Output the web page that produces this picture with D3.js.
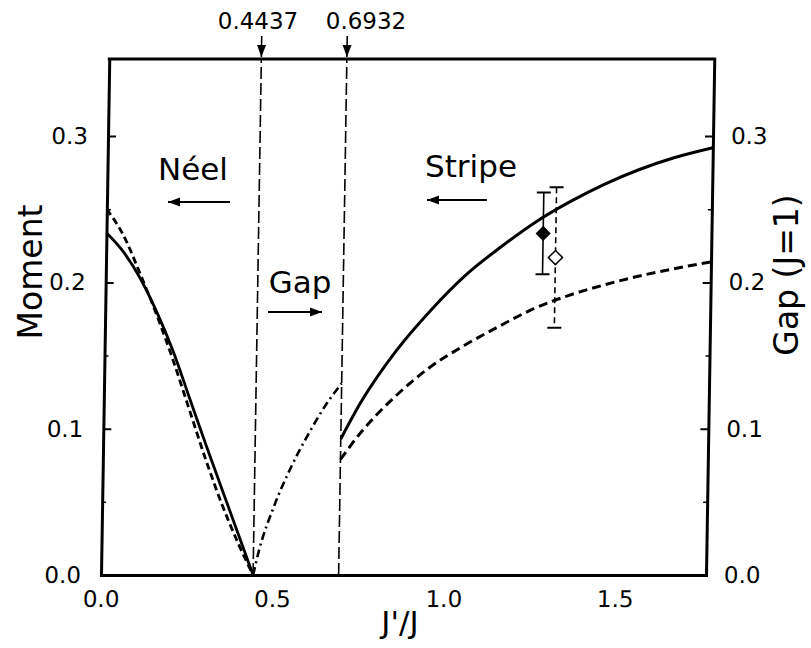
<!DOCTYPE html>
<html><head><meta charset="utf-8">
<script src="https://cdn.jsdelivr.net/npm/d3@7"></script>
<style>
body{margin:0;background:#fff;}
svg{display:block;}
text{font-family:"DejaVu Sans",sans-serif;fill:#000;}
</style>
</head><body>
<svg id="c" width="811" height="648"></svg>
<script>
// ---- data ----
const xTickValues = [0, 0.5, 1.0, 1.5];
const yTickValues = [0, 0.1, 0.2, 0.3];
const yMinorTicks = [0.05, 0.15, 0.25];
const transitionPoints = [0.4437, 0.6932];
const transitionLabels = ["0.4437", "0.6932"];

const neelX      = [0, 0.05, 0.1, 0.15, 0.2, 0.25, 0.3, 0.35, 0.4, 0.4437];
const neelMoment = [0.234, 0.221, 0.203, 0.180, 0.153, 0.121, 0.089, 0.058, 0.027, 0.0];
const neelGap    = [0.250, 0.232, 0.206, 0.178, 0.147, 0.113, 0.079, 0.048, 0.021, 0.0];

const gapX      = [0.4437, 0.46, 0.5, 0.55, 0.6, 0.65, 0.6932];
const gapValues = [0.0, 0.017, 0.046, 0.074, 0.097, 0.117, 0.131];

const stripeX      = [0.6932, 0.75, 0.85, 0.95, 1.05, 1.15, 1.25, 1.35, 1.45, 1.55, 1.65, 1.765];
const stripeMoment = [0.093, 0.118, 0.153, 0.181, 0.205, 0.224, 0.241, 0.255, 0.267, 0.277, 0.285, 0.292];
const stripeGap    = [0.079, 0.097, 0.122, 0.142, 0.157, 0.170, 0.182, 0.191, 0.198, 0.204, 0.209, 0.214];

const pointX   = [1.274, 1.311];
const pointY   = [0.2335, 0.217];
const pointErr = [0.028, 0.048];
const pointFilled = [true, false];

// ---- layout ----
const svg = d3.select("#c");
const x = d3.scaleLinear([0, 1.765], [101, 706]);
const y = d3.scaleLinear([0, 0.3527], [575, 59]);
const k = 0.016; // slight shear of the scanned original
const g = svg.append("g")
  .attr("transform", `translate(${k * y(0)},0) skewX(${-Math.atan(k) * 180 / Math.PI})`);

const defs = svg.append("defs");
defs.append("marker").attr("id", "ah")
  .attr("markerUnits", "userSpaceOnUse")
  .attr("markerWidth", 13).attr("markerHeight", 10)
  .attr("refX", 12).attr("refY", 5).attr("orient", "auto")
  .append("path").attr("d", "M0,0.5 L12,5 L0,9.5 Z").attr("fill", "#000");

const fmt = d3.format(".1f");
function styleAxis(sel, fs) {
  sel.attr("font-family", null).attr("font-size", null);
  sel.selectAll("text").style("font-size", fs + "px");
  sel.select(".domain").attr("stroke-width", 3).attr("stroke-linecap", "square");
  sel.selectAll(".tick line").attr("stroke-width", 2);
}

// left axis
const la = g.append("g").attr("transform", `translate(${x(0)},0)`)
  .call(d3.axisLeft(y).tickValues(yTickValues).tickSize(-8).tickSizeOuter(0).tickPadding(20).tickFormat(fmt));
styleAxis(la, 23);
g.append("g").attr("transform", `translate(${x(0)},0)`)
  .call(d3.axisLeft(y).tickValues(yMinorTicks).tickSize(-4).tickSizeOuter(0).tickFormat(""))
  .call(s => s.select(".domain").remove())
  .selectAll(".tick line").attr("stroke-width", 1.5);

// right axis
const ra = g.append("g").attr("transform", `translate(${x.range()[1]},0)`)
  .call(d3.axisRight(y).tickValues(yTickValues).tickSize(-8).tickSizeOuter(0).tickPadding(18).tickFormat(fmt));
styleAxis(ra, 23);
g.append("g").attr("transform", `translate(${x.range()[1]},0)`)
  .call(d3.axisRight(y).tickValues(yMinorTicks).tickSize(-4).tickSizeOuter(0).tickFormat(""))
  .call(s => s.select(".domain").remove())
  .selectAll(".tick line").attr("stroke-width", 1.5);

// bottom axis
const ba = g.append("g").attr("transform", `translate(0,${y(0)})`)
  .call(d3.axisBottom(x).tickValues(xTickValues).tickSize(0).tickSizeOuter(0).tickPadding(16).tickFormat(fmt));
styleAxis(ba, 23);

// top border
g.append("line").attr("x1", x.range()[0]).attr("x2", x.range()[1])
  .attr("y1", y.range()[1]).attr("y2", y.range()[1])
  .attr("stroke", "#000").attr("stroke-width", 3).attr("stroke-linecap", "square");

// vertical transition lines
g.selectAll(".vline").data(transitionPoints).join("line")
  .attr("x1", d => x(d)).attr("x2", d => x(d))
  .attr("y1", y(0)).attr("y2", y.range()[1])
  .attr("stroke", "#000").attr("stroke-width", 1.6).attr("stroke-dasharray", "12,4");

// top arrows
g.selectAll(".tarrow").data(transitionPoints).join("line")
  .attr("x1", d => x(d)).attr("x2", d => x(d))
  .attr("y1", 36).attr("y2", y.range()[1] - 2)
  .attr("stroke", "#000").attr("stroke-width", 1.6)
  .attr("marker-end", "url(#ah)");

// curves
const line = d3.line().x(d => x(d[0])).y(d => y(d[1])).curve(d3.curveMonotoneX);
function series(xs, ys) { return xs.map((v, i) => [v, ys[i]]); }

g.append("path").attr("d", line(series(neelX, neelMoment)))
  .attr("fill", "none").attr("stroke", "#000").attr("stroke-width", 2.8);
g.append("path").attr("d", line(series(neelX, neelGap)))
  .attr("fill", "none").attr("stroke", "#000").attr("stroke-width", 2.8).attr("stroke-dasharray", "7,4");
g.append("path").attr("d", line(series(gapX, gapValues)))
  .attr("fill", "none").attr("stroke", "#000").attr("stroke-width", 2.6).attr("stroke-dasharray", "8,4,2,4");
g.append("path").attr("d", line(series(stripeX, stripeMoment)))
  .attr("fill", "none").attr("stroke", "#000").attr("stroke-width", 3);
g.append("path").attr("d", line(series(stripeX, stripeGap)))
  .attr("fill", "none").attr("stroke", "#000").attr("stroke-width", 3).attr("stroke-dasharray", "9,5");

// error bars + diamonds
const pts = pointX.map((v, i) => ({x: v, y: pointY[i], e: pointErr[i], f: pointFilled[i]}));
const eb = g.selectAll(".eb").data(pts).join("g");
eb.append("line")
  .attr("x1", d => x(d.x)).attr("x2", d => x(d.x))
  .attr("y1", d => y(d.y + d.e)).attr("y2", d => y(d.y - d.e))
  .attr("stroke", "#000").attr("stroke-width", 1.6)
  .attr("stroke-dasharray", d => d.f ? null : "6,4");
eb.append("line")
  .attr("x1", d => x(d.x) - 7).attr("x2", d => x(d.x) + 7)
  .attr("y1", d => y(d.y + d.e)).attr("y2", d => y(d.y + d.e))
  .attr("stroke", "#000").attr("stroke-width", 2);
eb.append("line")
  .attr("x1", d => x(d.x) - 7).attr("x2", d => x(d.x) + 7)
  .attr("y1", d => y(d.y - d.e)).attr("y2", d => y(d.y - d.e))
  .attr("stroke", "#000").attr("stroke-width", 2);
eb.append("path")
  .attr("d", d => d3.symbol(d3.symbolSquare, d.f ? 85 : 100)())
  .attr("transform", d => `translate(${x(d.x)},${y(d.y)}) rotate(45)`)
  .attr("fill", d => d.f ? "#000" : "#fff")
  .attr("stroke", "#000").attr("stroke-width", 1.5);

// ---- annotation text (page coordinates) ----
const ann = svg.append("g");
ann.append("text").attr("x", 258).attr("y", 29).attr("text-anchor", "middle")
  .style("font-size", "23px").text(transitionLabels[0]);
ann.append("text").attr("x", 366).attr("y", 29).attr("text-anchor", "middle")
  .style("font-size", "23px").text(transitionLabels[1]);

ann.append("text").attr("x", 193).attr("y", 180).attr("text-anchor", "middle")
  .style("font-size", "31px").text("Néel");
ann.append("text").attr("x", 471).attr("y", 177).attr("text-anchor", "middle")
  .style("font-size", "31px").text("Stripe");
ann.append("text").attr("x", 300).attr("y", 293).attr("text-anchor", "middle")
  .style("font-size", "31px").text("Gap");

const arrows = [[230, 202, 168, 202], [487, 200, 427, 200], [268, 312, 322, 312]];
ann.selectAll(".arr").data(arrows).join("line")
  .attr("x1", d => d[0]).attr("y1", d => d[1]).attr("x2", d => d[2]).attr("y2", d => d[3])
  .attr("stroke", "#000").attr("stroke-width", 2.2).attr("marker-end", "url(#ah)");

ann.append("text").attr("transform", "translate(42,272) rotate(-90)")
  .attr("text-anchor", "middle").style("font-size", "33px").text("Moment");
ann.append("text").attr("transform", "translate(798,275) rotate(-90)")
  .attr("text-anchor", "middle").style("font-size", "33px").text("Gap (J=1)");
ann.append("text").attr("x", 400).attr("y", 633).attr("text-anchor", "middle")
  .style("font-size", "31px").text("J'/J");
</script>
</body></html>
